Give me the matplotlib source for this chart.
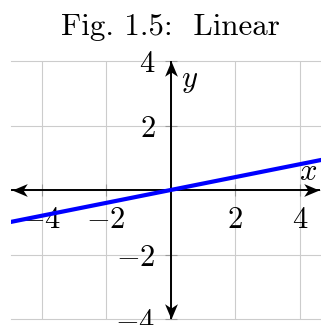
import numpy as np
import matplotlib
matplotlib.use("Agg")
import matplotlib.pyplot as plt
from matplotlib.path import Path
from matplotlib.markers import MarkerStyle
from matplotlib.transforms import Affine2D

plt.rcParams['mathtext.fontset'] = 'cm'

# data
line_x = [-5, 5]
line_y = [-1, 1]
xticks = [-4, -2, 2, 4]
yticks = [-4, -2, 2, 4]
grid_vals = [-4, -2, 0, 2, 4]
title = "Fig. 1.5:  Linear"

W, H = 321, 325
fig = plt.figure(figsize=(W / 100, H / 100), dpi=100)
x0px, unit = 170.7, 32.3
xmin = (11 - x0px) / unit
xmax = (321 - x0px) / unit
ax = fig.add_axes([11 / W, (325 - 319) / H, 310 / W, 258 / H])
ax.set_xlim(xmin, xmax)
ax.set_ylim(-4, 4)
ax.set_facecolor('none')

# grid
for g in grid_vals:
    ax.axvline(g, color='#cccccc', lw=0.8, zorder=0)
    ax.axhline(g, color='#cccccc', lw=0.8, zorder=0, clip_on=False)

for s in ['top', 'right']:
    ax.spines[s].set_visible(False)
ax.spines['left'].set_position(('data', 0))
ax.spines['bottom'].set_position(('data', 0))
ax.spines['left'].set_visible(False)
ax.spines['bottom'].set_visible(False)

ax.set_xticks(xticks)
ax.set_xticklabels([f"${v}$" if v > 0 else f"$-{abs(v)}$" for v in xticks])
ax.set_yticks(yticks)
ax.set_yticklabels([f"${v}$" if v > 0 else f"$-{abs(v)}$" for v in yticks])
ax.tick_params(direction='inout', length=8, width=0.8, color='#999999',
               labelsize=22, pad=7)

# axis lines
ax.plot([xmin + 0.03, xmax - 0.05], [0, 0], color='black', lw=1.4, zorder=3, clip_on=False)
ax.plot([0, 0], [-3.98, 3.98], color='black', lw=1.4, zorder=3, clip_on=False)

stealth = Path([(0, 0), (-1, 0.42), (-0.72, 0), (-1, -0.42), (0, 0)],
               [Path.MOVETO, Path.LINETO, Path.LINETO, Path.LINETO, Path.CLOSEPOLY])
def head(x, y, ang):
    m = MarkerStyle(stealth, transform=Affine2D().rotate_deg(ang))
    ax.plot([x], [y], marker=m, markersize=22, color='black', mec='none', zorder=4, clip_on=False)
head(xmin + 0.03, 0, 180)
head(xmax - 0.05, 0, 0)
head(0, 4, 90)
head(0, -4, -90)

# function line
ax.plot(line_x, line_y, color='#0000ff', lw=3.0, zorder=5, solid_capstyle='butt')

ax.text(4.25, 0.56, '$x$', fontsize=22, ha='center', va='center')
ax.text(0.57, 3.4, '$y$', fontsize=22, ha='center', va='center')

fig.text(170 / W, 1 - 35 / H, title, fontsize=22.3, family='cmr10', ha='center', va='baseline')

fig.savefig('out.png', dpi=100)
